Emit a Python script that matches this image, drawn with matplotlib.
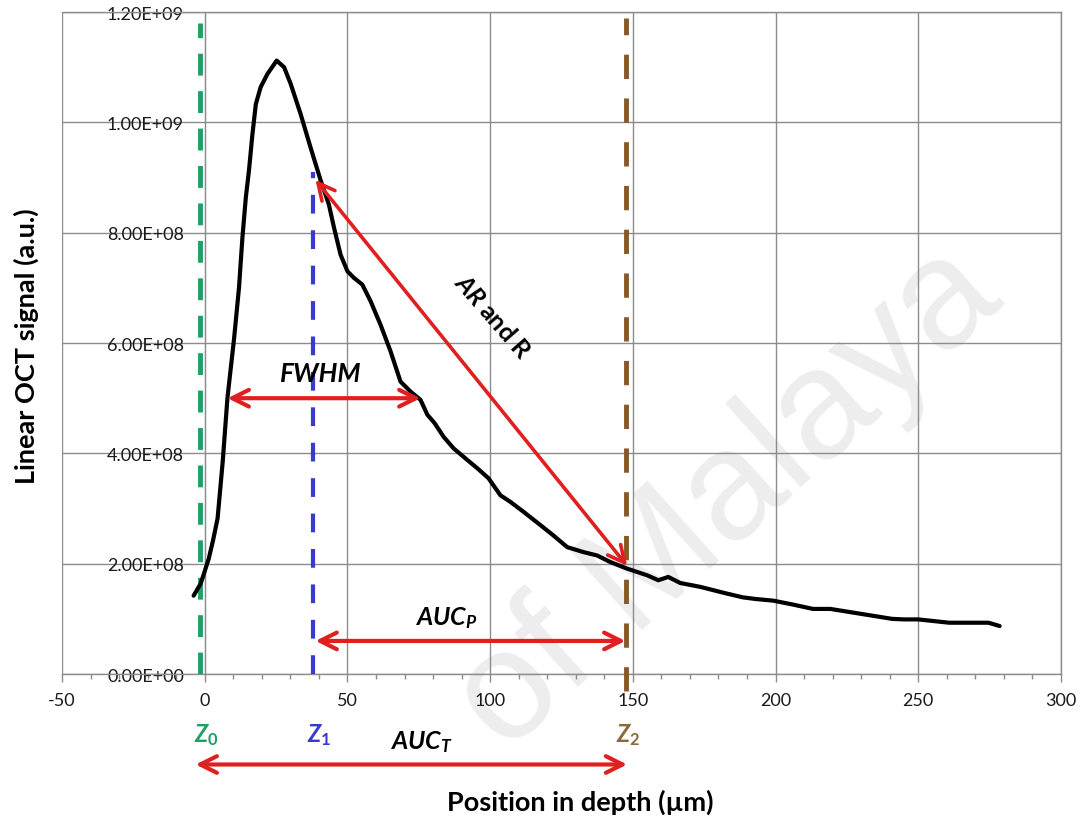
import matplotlib
matplotlib.use("Agg")
import matplotlib.pyplot as plt
from matplotlib.patches import FancyArrowPatch
from matplotlib.ticker import MultipleLocator, FixedLocator

# ── Fonts ────────────────────────────────────────────────────────
plt.rcParams['font.family'] = ['Lato', 'DejaVu Sans']
plt.rcParams['axes.unicode_minus'] = False
plt.rcParams['mathtext.fontset'] = 'custom'
plt.rcParams['mathtext.it'] = 'Lato:italic:bold'
plt.rcParams['mathtext.rm'] = 'Lato:bold'
plt.rcParams['mathtext.bf'] = 'Lato:bold'

# ── Data ─────────────────────────────────────────────────────────
depth = [-3.9, -1.4, 1.4, 2.9, 4.5, 6.3, 7.95, 10.3, 12.0, 13.2, 14.4,
         15.5, 16.7, 17.9, 19.6, 22.0, 25.2, 27.8, 30.1, 33.6, 37.1,
         40.6, 43.5, 45.3, 47.6, 50.0, 52.3, 55.2, 58.1, 61.6, 65.1,
         68.6, 72.1, 75.6, 78.0, 80.5, 83.7, 87.2, 92.0, 95.5, 99.4,
         103.6, 107.1, 111.7, 117.6, 122.2, 127.0, 132.7, 137.4, 142.1,
         148.0, 155.0, 158.9, 162.4, 166.6, 173.6, 182.0, 188.5, 193.0,
         199.2, 206.0, 213.1, 219.2, 230.0, 240.8, 245.0, 250.0, 260.8,
         274.6, 278.5]
signal = [1.42e8, 1.64e8, 2.09e8, 2.42e8, 2.82e8, 3.85e8, 5.00e8, 6.09e8,
          7.00e8, 7.91e8, 8.64e8, 9.13e8, 9.78e8, 1.033e9, 1.064e9,
          1.088e9, 1.112e9, 1.100e9, 1.070e9, 1.015e9, 9.54e8, 8.95e8,
          8.51e8, 8.09e8, 7.60e8, 7.30e8, 7.18e8, 7.06e8, 6.76e8, 6.33e8,
          5.85e8, 5.30e8, 5.12e8, 4.97e8, 4.70e8, 4.55e8, 4.30e8, 4.09e8,
          3.88e8, 3.73e8, 3.55e8, 3.24e8, 3.12e8, 2.94e8, 2.70e8, 2.51e8,
          2.30e8, 2.21e8, 2.15e8, 2.03e8, 1.91e8, 1.79e8, 1.70e8, 1.76e8,
          1.65e8, 1.58e8, 1.47e8, 1.39e8, 1.36e8, 1.33e8, 1.26e8, 1.18e8,
          1.18e8, 1.09e8, 1.00e8, 0.99e8, 0.99e8, 0.93e8, 0.93e8, 0.87e8]

z0, z1, z2 = -1.5, 38.0, 147.7
z0_top, z1_top, z2_top = 1.18e9, 9.1e8, 1.19e9

fwhm_left, fwhm_right, fwhm_level = 8.0, 75.6, 5.0e8
ar_start = (38.8, 8.96e8)
ar_end = (148.0, 1.96e8)
aucp_level = 6.0e7
auct_left, auct_right, auct_level = -3.2, 148.0, -1.64e8

x_ticks = [-50, 0, 50, 100, 150, 200, 250, 300]
y_ticks = [0, 2e8, 4e8, 6e8, 8e8, 1.0e9, 1.2e9]
y_tick_labels = ['0.00E+00', '2.00E+08', '4.00E+08', '6.00E+08',
                 '8.00E+08', '1.00E+09', '1.20E+09']

# ── Style ────────────────────────────────────────────────────────
RED = '#E02020'
GREEN = '#1FA067'
BLUE = '#3A3ACC'
BROWN = '#86582A'
GRID = '#8C8C8C'


def red_arrow(ax, p0, p1, lw=3.0):
    arr = FancyArrowPatch(p0, p1,
                          arrowstyle='<->,head_length=12,head_width=6',
                          mutation_scale=1, lw=lw, color=RED,
                          shrinkA=0, shrinkB=0, clip_on=False, zorder=6)
    ax.add_patch(arr)


fig = plt.figure(figsize=(10.9, 8.2), dpi=100)
ax = fig.add_axes([0.0569, 0.1768, 0.9165, 0.8073])

# watermark, behind everything
ax.text(0.668, 0.392, 'of Malaya', transform=fig.transFigure,
        family='Liberation Sans', fontsize=112, color='#EDEDED',
        rotation=42, ha='center', va='center', zorder=0, clip_on=False)

ax.set_xlim(-50, 300)
ax.set_ylim(0, 1.2e9)
ax.xaxis.set_major_locator(FixedLocator(x_ticks))
ax.xaxis.set_minor_locator(MultipleLocator(10))
ax.yaxis.set_major_locator(FixedLocator(y_ticks))
ax.set_yticklabels(y_tick_labels)

ax.set_axisbelow(True)
ax.grid(True, which='major', color=GRID, lw=1.0)
for side in ['top', 'right', 'bottom']:
    ax.spines[side].set_color(GRID)
    ax.spines[side].set_linewidth(1.0)
ax.spines['left'].set_position(('data', 0))
ax.spines['left'].set_color(GRID)

ax.tick_params(axis='y', length=0, pad=15, labelsize=13, colors='#1a1a1a')
ax.tick_params(axis='x', which='major', direction='out', length=6,
               width=1, color=GRID, pad=7, labelsize=13,
               labelcolor='#1a1a1a')
ax.tick_params(axis='x', which='minor', direction='out', length=3.5,
               width=1, color=GRID)

# the signal curve
ax.plot(depth, signal, color='black', lw=3.0, solid_joinstyle='round',
        solid_capstyle='round', zorder=4)

# depth markers
ax.vlines(z0, 0, z0_top, colors=GREEN, lw=3.5, linestyles=(0, (4.5, 3.2)),
          zorder=3)
ax.vlines(z1, 0, z1_top, colors=BLUE, lw=3.0, linestyles=(0, (4.5, 4.0)),
          zorder=3)
ax.vlines(z2, -0.03e9, z2_top, colors=BROWN, lw=3.5,
          linestyles=(0, (5.0, 4.0)), zorder=3, clip_on=False)

# arrows
red_arrow(ax, (fwhm_left, fwhm_level), (fwhm_right, fwhm_level))
red_arrow(ax, ar_start, ar_end, lw=2.6)
red_arrow(ax, (z1 + 0.8, aucp_level), (z2 - 0.3, aucp_level))
red_arrow(ax, (auct_left, auct_level), (auct_right, auct_level))

# annotation texts
ax.text(40.6, 5.45e8, 'FWHM', fontsize=19, fontweight='bold',
        style='italic', ha='center', va='center', zorder=7)
ax.text(100.8, 6.5e8, r'$AR$ and R', fontsize=18, fontweight='bold',
        rotation=-49, ha='center', va='center', zorder=7,
        rotation_mode='anchor')
ax.text(84.7, 1.04e8, r'$AUC_P$', fontsize=18, ha='center', va='center',
        zorder=7)
ax.text(76.0, -1.22e8, r'$AUC_T$', fontsize=18, ha='center', va='center',
        clip_on=False)
ax.text(z0 + 2.0, -1.09e8, r'$Z_{\mathit{0}}$', fontsize=17, color=GREEN,
        ha='center', va='center', clip_on=False)
ax.text(z1 + 2.0, -1.09e8, r'$Z_{\mathit{1}}$', fontsize=17, color=BLUE,
        ha='center', va='center', clip_on=False)
ax.text(z2 + 0.5, -1.09e8, r'$Z_{\mathit{2}}$', fontsize=17,
        color='#8A6A3A', ha='center', va='center', clip_on=False)

fig.text(0.532, 0.021, 'Position in depth (µm)', fontsize=19.5,
         fontweight='bold', ha='center', va='center')
fig.text(0.024, 0.578, 'Linear OCT signal (a.u.)', fontsize=19.5,
         fontweight='bold', rotation=90, ha='center', va='center')

fig.savefig('out.png', dpi=100, facecolor='white')
